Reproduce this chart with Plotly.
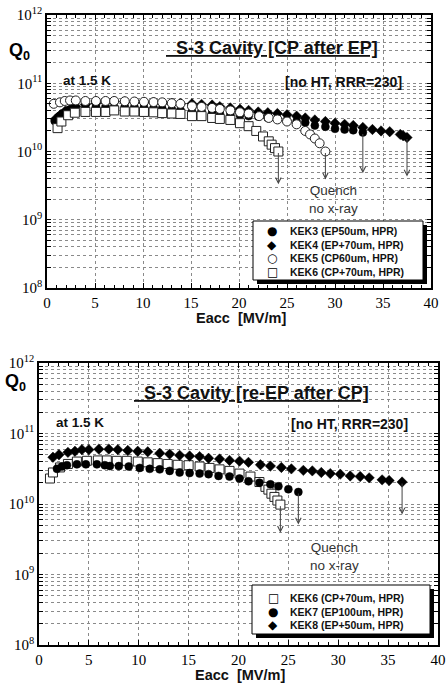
import plotly.graph_objects as go
import math

# ---------------- data (top panel: CP after EP) ----------------
top_kek3_e = [0.8, 1.3, 1.8, 2.3, 2.9, 4.0, 5.1, 6.1, 7.0, 8.1, 9.1, 10.1, 11.1, 12.0, 13.0, 13.9,
              15.1, 16.1, 17.2, 18.0, 19.1, 20.1, 21.0, 22.0, 23.0, 24.0, 25.0, 26.0, 26.9, 27.9,
              29.0, 30.0, 31.0, 31.9, 32.9]
top_kek3_q = [2.8e10, 3.3e10, 3.7e10, 4.1e10, 4.25e10, 4.5e10, 4.55e10, 4.55e10, 4.55e10, 4.55e10,
              4.5e10, 4.45e10, 4.35e10, 4.25e10, 4.15e10, 4.05e10, 3.9e10, 3.8e10, 3.7e10, 3.6e10,
              3.55e10, 3.4e10, 3.3e10, 3.25e10, 3.1e10, 3.0e10, 2.9e10, 2.75e10, 2.65e10, 2.4e10,
              2.3e10, 2.15e10, 2.1e10, 2.05e10, 1.9e10]

top_kek4_e = [0.9, 1.4, 1.9, 2.5, 3.0, 4.0, 5.1, 6.1, 7.0, 8.1, 9.1, 10.1, 11.1, 12.0, 13.0, 13.9,
              15.1, 16.1, 17.2, 18.0, 19.1, 20.1, 21.0, 22.0, 23.0, 24.0, 25.0, 26.0, 26.9, 27.9,
              29.0, 30.0, 31.0, 31.9, 32.9, 33.9, 34.8, 35.7, 36.8, 37.1, 37.5]
top_kek4_q = [3.0e10, 3.45e10, 3.9e10, 4.25e10, 4.55e10, 4.9e10, 5.1e10, 5.25e10, 5.35e10, 5.35e10,
              5.25e10, 5.25e10, 5.25e10, 5.1e10, 5.1e10, 5.0e10, 5.0e10, 4.9e10, 4.8e10, 4.55e10,
              4.35e10, 4.15e10, 4.0e10, 3.8e10, 3.7e10, 3.6e10, 3.45e10, 3.3e10, 3.1e10, 2.9e10,
              2.75e10, 2.6e10, 2.5e10, 2.4e10, 2.25e10, 2.1e10, 2.0e10, 1.95e10, 1.78e10, 1.7e10, 1.6e10]

top_kek5_e = [0.7, 1.35, 1.85, 2.4, 3.0, 4.0, 5.1, 6.1, 7.0, 8.1, 9.1, 10.1, 11.1, 12.0, 13.0, 13.9,
              15.1, 16.1, 17.2, 18.0, 19.1, 20.1, 21.0, 22.1, 23.1, 24.0, 25.0, 26.0, 26.9, 27.4,
              27.9, 28.4, 29.0]
top_kek5_q = [5.0e10, 5.25e10, 5.5e10, 5.6e10, 5.6e10, 5.5e10, 5.5e10, 5.5e10, 5.5e10, 5.45e10,
              5.4e10, 5.35e10, 5.3e10, 5.25e10, 5.1e10, 5.0e10, 4.6e10, 4.5e10, 4.35e10, 4.2e10,
              4.0e10, 3.75e10, 3.6e10, 3.3e10, 3.1e10, 2.95e10, 2.75e10, 2.5e10, 2.0e10, 1.78e10,
              1.55e10, 1.32e10, 1.0e10]

top_kek6_e = [1.1, 1.5, 2.2, 2.9, 4.0, 5.1, 6.1, 7.0, 8.1, 9.1, 10.1, 11.1, 12.0, 13.0, 13.9, 15.1,
              16.1, 17.2, 18.0, 19.1, 20.1, 21.0, 21.8, 22.5, 23.1, 23.4, 23.75, 24.1]
top_kek6_q = [2.2e10, 2.75e10, 3.4e10, 3.7e10, 3.8e10, 3.8e10, 3.8e10, 4.0e10, 3.85e10, 3.85e10,
              3.8e10, 3.75e10, 3.65e10, 3.6e10, 3.55e10, 3.3e10, 3.3e10, 3.1e10, 3.0e10, 2.9e10,
              2.6e10, 2.35e10, 2.0e10, 1.66e10, 1.41e10, 1.26e10, 1.12e10, 1.0e10]

top_names = ["KEK3 (EP50um, HPR)", "KEK4 (EP+70um, HPR)", "KEK5 (CP60um, HPR)", "KEK6 (CP+70um, HPR)"]
top_quench_end = [4.8e9, 4.3e9, 3.9e9, 3.3e9]   # arrow tips (KEK3, KEK4, KEK5, KEK6)

# ---------------- data (bottom panel: re-EP after CP) ----------------
bot_kek6_e = [1.1, 1.4, 2.1, 2.9, 3.8, 4.8, 5.9, 6.8, 7.8, 8.8, 9.9, 10.9, 11.9, 12.9, 13.9, 15.0,
              16.1, 17.1, 18.1, 19.1, 20.1, 21.2, 22.1, 22.7, 23.0, 23.3, 23.6, 23.9, 24.2]
bot_kek6_q = [2.3e10, 2.8e10, 3.3e10, 3.7e10, 4.0e10, 4.1e10, 4.15e10, 4.15e10, 4.1e10, 4.1e10,
              4.0e10, 3.9e10, 3.8e10, 3.7e10, 3.6e10, 3.55e10, 3.4e10, 3.25e10, 3.1e10, 2.95e10,
              2.7e10, 2.45e10, 2.05e10, 1.75e10, 1.6e10, 1.4e10, 1.26e10, 1.12e10, 0.98e10]

bot_kek7_e = [1.8, 2.3, 2.8, 3.8, 4.7, 5.8, 6.6, 7.1, 8.0, 9.0, 10.1, 11.1, 12.1, 13.1, 14.1, 15.1,
              16.1, 17.0, 18.0, 19.1, 20.1, 21.0, 22.1, 23.2, 24.0, 25.0, 26.0]
bot_kek7_q = [3.15e10, 3.4e10, 3.55e10, 3.65e10, 3.65e10, 3.65e10, 3.55e10, 3.45e10, 3.45e10, 3.4e10,
              3.25e10, 3.15e10, 3.1e10, 2.95e10, 2.8e10, 2.75e10, 2.7e10, 2.65e10, 2.5e10, 2.45e10,
              2.3e10, 2.1e10, 2.0e10, 1.9e10, 1.78e10, 1.62e10, 1.48e10]

bot_kek8_e = [1.4, 2.0, 2.9, 3.6, 4.3, 5.0, 6.0, 7.0, 7.9, 8.9, 9.9, 10.9, 12.1, 13.1, 14.1, 15.1,
              16.1, 17.0, 18.1, 19.1, 20.1, 21.0, 22.2, 23.2, 24.3, 25.3, 26.5, 27.4, 28.3, 29.2,
              30.2, 31.2, 32.2, 33.1, 34.4, 35.1, 36.4]
bot_kek8_q = [4.6e10, 5.0e10, 5.4e10, 5.6e10, 5.9e10, 5.9e10, 6.0e10, 6.0e10, 5.9e10, 5.75e10,
              5.6e10, 5.5e10, 5.25e10, 5.1e10, 4.9e10, 4.8e10, 4.7e10, 4.45e10, 4.35e10, 4.15e10,
              4.05e10, 3.9e10, 3.6e10, 3.45e10, 3.3e10, 3.15e10, 3.0e10, 2.95e10, 2.8e10, 2.7e10,
              2.65e10, 2.5e10, 2.45e10, 2.35e10, 2.2e10, 2.15e10, 2.05e10]

bot_names = ["KEK6 (CP+70um, HPR)", "KEK7 (EP100um, HPR)", "KEK8 (EP+50um, HPR)"]
bot_quench_end = [3.9e9, 5.1e9, 7.1e9]   # arrow tips (KEK6, KEK7, KEK8)

# ---------------- axis ticks / labels ----------------
x_tick_vals = [0, 5, 10, 15, 20, 25, 30, 35, 40]
y_decades = [8, 9, 10, 11, 12]
y_decade_labels = ["10<sup>8</sup>", "10<sup>9</sup>", "10<sup>10</sup>", "10<sup>11</sup>", "10<sup>12</sup>"]
titles = ["S-3 Cavity [CP after EP]", "S-3 Cavity [re-EP after CP]"]
temp_label = "at 1.5 K"
cond_label = "[no HT, RRR=230]"
quench_label = "Quench<br>no x-ray"
x_title = "Eacc&nbsp; [MV/m]"

W, H = 446, 684
SANS = "Liberation Sans, Arial, Helvetica, sans-serif"
SERIF = "Liberation Serif, Times New Roman, serif"


def px(x):
    return x / W


def py(y):
    return 1 - y / H


y_major_vals = [10 ** d for d in y_decades]
y_minor_vals = [m * 10 ** d for d in y_decades[:-1] for m in range(2, 10)]

fig = go.Figure()

styles = {
    "fcircle": dict(symbol="circle", size=8, color="black", line=dict(color="black", width=0.5)),
    "diamond": dict(symbol="diamond", size=8, color="black", line=dict(color="black", width=0.5)),
    "ocircle": dict(symbol="circle", size=9, color="white", line=dict(color="#222", width=1)),
    "square": dict(symbol="square", size=9, color="white", line=dict(color="#222", width=1)),
}

top_series = [(top_kek3_e, top_kek3_q, "fcircle"), (top_kek4_e, top_kek4_q, "diamond"),
              (top_kek5_e, top_kek5_q, "ocircle"), (top_kek6_e, top_kek6_q, "square")]
bot_series = [(bot_kek6_e, bot_kek6_q, "square"), (bot_kek7_e, bot_kek7_q, "fcircle"),
              (bot_kek8_e, bot_kek8_q, "diamond")]

annotations = []
shapes = []


def ann(**kw):
    kw.setdefault("xanchor", "center")
    kw.setdefault("yanchor", "middle")
    kw.setdefault("showarrow", False)
    annotations.append(kw)


for (xs, ys, st), name, qend in zip(top_series, top_names, top_quench_end):
    fig.add_trace(go.Scatter(x=xs, y=ys, mode="markers", marker=styles[st], name=name,
                             xaxis="x", yaxis="y", showlegend=False))
    ann(x=xs[-1], y=math.log10(qend), ax=xs[-1], ay=math.log10(ys[-1]),
        xref="x", yref="y", axref="x", ayref="y", text="", showarrow=True,
        arrowhead=5, arrowsize=1.1, arrowwidth=1, arrowcolor="#444", standoff=0, startstandoff=0)
for (xs, ys, st), name, qend in zip(bot_series, bot_names, bot_quench_end):
    fig.add_trace(go.Scatter(x=xs, y=ys, mode="markers", marker=styles[st], name=name,
                             xaxis="x2", yaxis="y2", showlegend=False))
    ann(x=xs[-1], y=math.log10(qend), ax=xs[-1], ay=math.log10(ys[-1]),
        xref="x2", yref="y2", axref="x2", ayref="y2", text="", showarrow=True,
        arrowhead=5, arrowsize=1.1, arrowwidth=1, arrowcolor="#444", standoff=0, startstandoff=0)

xaxis_common = dict(range=[0, 40], tickvals=x_tick_vals, ticks="inside", ticklen=5, tickcolor="black",
                    showline=True, linecolor="black", linewidth=1.5, mirror="allticks", automargin=False,
                    showgrid=True, gridcolor="#8a8a8a", griddash="dot", gridwidth=1, zeroline=False,
                    tickfont=dict(family=SERIF, size=15, color="black"),
                    minor=dict(dtick=1, ticks="inside", ticklen=3, tickcolor="black", showgrid=False))
yaxis_common = dict(type="log", range=[8, 12], tickvals=y_major_vals, ticktext=y_decade_labels,
                    ticks="inside", ticklen=4, tickcolor="black", automargin=False,
                    showline=True, linecolor="black", linewidth=1.5, mirror="allticks",
                    showgrid=True, gridcolor="#8a8a8a", griddash="dot", gridwidth=1, zeroline=False,
                    tickfont=dict(family=SERIF, size=15, color="black"),
                    minor=dict(tickvals=y_minor_vals, ticks="inside", ticklen=4, tickcolor="black",
                               showgrid=True, gridcolor="#8a8a8a", griddash="dot", gridwidth=1))

fig.update_layout(
    width=W, height=H, margin=dict(l=0, r=0, t=0, b=0, pad=0, autoexpand=False),
    paper_bgcolor="white", plot_bgcolor="white", showlegend=False,
    xaxis=dict(domain=[px(47), px(431)], anchor="y", **xaxis_common),
    yaxis=dict(domain=[py(288), py(15)], anchor="x", **yaxis_common),
    xaxis2=dict(domain=[px(39), px(438)], anchor="y2", **xaxis_common),
    yaxis2=dict(domain=[py(645), py(363)], anchor="x2", **yaxis_common),
)

# --- panel texts ---
panels = [
    dict(xr="x", yr="y", title=titles[0], tx=23.4, ty=11.52, t1y=11.04, t2y=11.015, qx=29.8, qy=9.30,
         q0x=19, q0y=51, xtx=241, xty=318),
    dict(xr="x2", yr="y2", title=titles[1], tx=21.3, ty=11.58, t1y=11.16, t2y=11.14, qx=29.6, qy=9.26,
         q0x=15, q0y=382, xtx=240, xty=675),
]
for p in panels:
    ann(x=p["tx"], y=p["ty"], xref=p["xr"], yref=p["yr"],
        text="<b><u>&nbsp;&nbsp;" + p["title"] + "</u></b>",
        font=dict(family=SANS, size=18, color="#111"))
    ann(x=1.5, y=p["t1y"], xref=p["xr"], yref=p["yr"], xanchor="left",
        text="<b>" + temp_label + "</b>", font=dict(family=SANS, size=13.5, color="#111"))
    ann(x=37.2, y=p["t2y"], xref=p["xr"], yref=p["yr"], xanchor="right",
        text="<b>" + cond_label + "</b>", font=dict(family=SANS, size=14, color="#111"))
    ann(x=p["qx"], y=p["qy"], xref=p["xr"], yref=p["yr"],
        text=quench_label, font=dict(family=SANS, size=13.5, color="#333"))
    ann(x=px(p["q0x"]), y=py(p["q0y"]), xref="paper", yref="paper",
        text="<b>Q<sub>0</sub></b>", font=dict(family=SANS, size=18, color="black"))
    ann(x=px(p["xtx"]), y=py(p["xty"]), xref="paper", yref="paper",
        text="<b>" + x_title + "</b>", font=dict(family=SANS, size=14.5, color="#111"))

# --- hand-built legends (box + shadow + glyph + label) ---
glyphs = {"fcircle": "●", "diamond": "◆", "ocircle": "○", "square": "□"}
legends = [
    dict(box=(253, 221, 423, 280), rows=[231, 245, 258, 272], mx=272, tx=288,
         items=[(st, n) for (_, _, st), n in zip(top_series, top_names)]),
    dict(box=(252, 585, 430, 634), rows=[598, 612, 625], mx=273, tx=288,
         items=[(st, n) for (_, _, st), n in zip(bot_series, bot_names)]),
]
for lg in legends:
    x0, y0, x1, y1 = lg["box"]
    shapes.append(dict(type="rect", xref="paper", yref="paper", x0=px(x0 + 4), x1=px(x1 + 4),
                       y0=py(y1 + 4), y1=py(y0 + 4), fillcolor="black", line=dict(width=0),
                       layer="above"))
    shapes.append(dict(type="rect", xref="paper", yref="paper", x0=px(x0), x1=px(x1),
                       y0=py(y1), y1=py(y0), fillcolor="white", line=dict(color="black", width=1),
                       layer="above"))
    for (st, name), ry in zip(lg["items"], lg["rows"]):
        ann(x=px(lg["mx"]), y=py(ry), xref="paper", yref="paper",
            text=glyphs[st], font=dict(family="DejaVu Sans", size=12, color="black"))
        ann(x=px(lg["tx"]), y=py(ry), xref="paper", yref="paper", xanchor="left",
            text="<b>" + name + "</b>", font=dict(family=SANS, size=10.5, color="#111"))

fig.update_layout(annotations=annotations, shapes=shapes)
fig.write_html("out.html")
